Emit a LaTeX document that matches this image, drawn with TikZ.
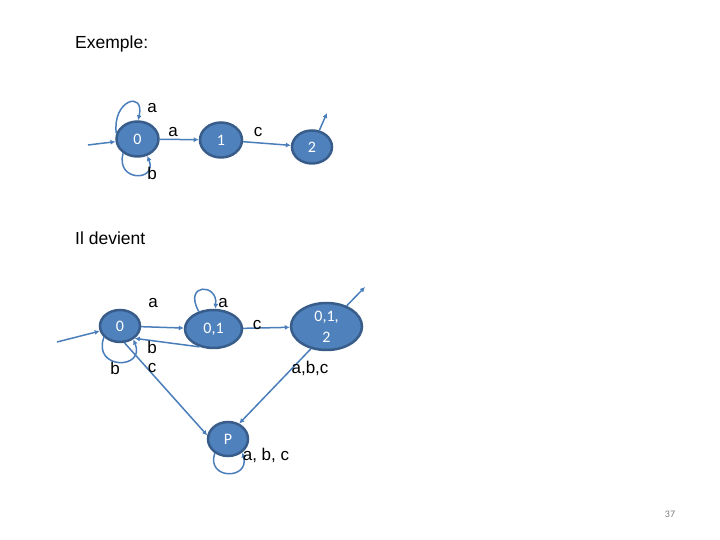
\documentclass[tikz,border=0pt]{standalone}
\usepackage{fontspec}
\setmainfont{Liberation Sans}
\newfontfamily\statefont{Carlito}
\usetikzlibrary{arrows.meta,shapes.geometric}
\definecolor{stateFill}{HTML}{4F81BD}
\definecolor{stateLine}{HTML}{385D8A}
\definecolor{edgeBlue}{HTML}{4A7EBB}
\definecolor{pageGray}{HTML}{7F7F7F}

\begin{document}
\begin{tikzpicture}[x=1pt,y=1pt,>=Latex,
    state/.style={ellipse,draw=stateLine,line width=2.5pt,fill=stateFill,
      text=white,inner sep=0pt,align=center,
      font=\statefont\fontsize{16}{21}\selectfont},
    edge/.style={draw=edgeBlue,line width=1.5pt,-{Latex[length=5pt,width=5pt]}},
    lbl/.style={inner sep=0pt,font=\fontsize{17}{19}\selectfont},
    title/.style={anchor=west,inner sep=0pt,font=\fontsize{17.5}{19}\selectfont}]
  \useasboundingbox (0,0) rectangle (720,540);

  % first automaton
  \node[title] (exemple) at (75,496) {Exemple:};
  \node[state,minimum width=42pt,minimum height=35pt] (q0) at (137.5,401) {0};
  \node[state,minimum width=42pt,minimum height=35pt] (q1) at (221,400) {1};
  \node[state,minimum width=40pt,minimum height=33pt] (q2) at (312,393) {2};
  \coordinate (init0) at (88,395);
  \coordinate (acc2) at (327,427);
  \draw[edge] (init0) -- (q0);
  \draw[edge] (q0) -- (q1);
  \draw[edge] (q1) -- (q2);
  \draw[edge] (q2) -- (acc2);
  \draw[edge] (q0.165) .. controls (112,440) and (145,450) .. (q0.88);
  \draw[edge] (q0.225) .. controls (115,358) and (158,358) .. (q0.300);
  \node[lbl] (la0) at (152,432) {a};
  \node[lbl] (la01) at (173,408) {a};
  \node[lbl] (lc12) at (258,408) {c};
  \node[lbl] (lb0) at (152,367) {b};

  % determinised automaton
  \node[title] (devient) at (75,302) {Il devient};
  \node[state,minimum width=40pt,minimum height=32pt] (r0) at (120,214) {0};
  \node[state,minimum width=57pt,minimum height=38pt] (r01) at (213.5,211) {0,1};
  \node[state,minimum width=71pt,minimum height=47pt,inner sep=-6pt] (r012) at (326.5,213.5) {0,1,\\2};
  \node[state,minimum width=40pt,minimum height=34pt] (rP) at (228,101) {P};
  \coordinate (initr) at (57,198);
  \coordinate (accr) at (365,253);
  \draw[edge] (initr) -- (r0);
  \draw[edge] (r0) -- (r01);
  \draw[edge] (r01) -- (r012);
  \draw[edge] (r012) -- (accr);
  \draw[edge] (r01.232) -- (r0.320);
  \draw[edge] (r0.285) -- (rP.170);
  \draw[edge] (r012.235) -- (rP.54);
  \draw[edge] (r0.215) .. controls (92,170) and (146,170) .. (r0.315);
  \draw[edge] (r01.130) .. controls (183,257) and (218,257) .. (r01.85);
  \draw[edge] (rP.227) .. controls (206,60) and (250,60) .. (rP.317);
  \node[lbl] (ra01) at (153,237) {a};
  \node[lbl] (ra11) at (223,237) {a};
  \node[lbl] (rc12) at (257,215) {c};
  \node[lbl] (rb10) at (152,193) {b};
  \node[lbl] (rb00) at (115,172) {b};
  \node[lbl] (rc0P) at (152,172) {c};
  \node[lbl] (rabc) at (310,172) {a,b,c};
  \node[lbl] (rabcP) at (266,85) {a, b, c};

  \node[inner sep=0pt,text=pageGray,font=\statefont\fontsize{10}{11}\selectfont]
    (page) at (670,26) {37};
\end{tikzpicture}
\end{document}
